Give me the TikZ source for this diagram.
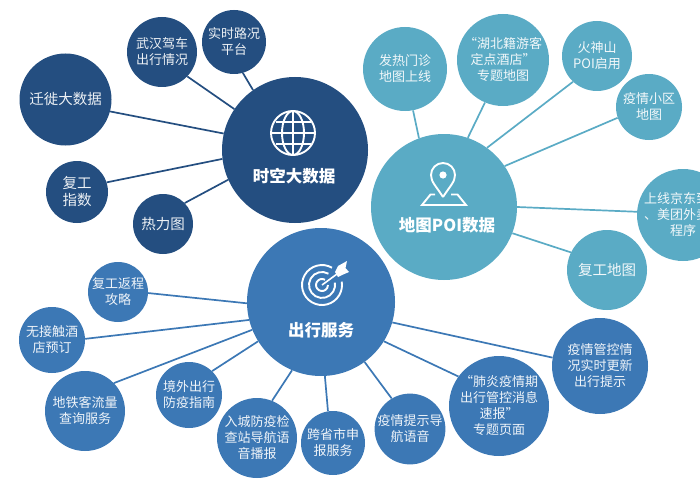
\documentclass[tikz,border=0pt]{standalone}
\usepackage{fontspec}
\setmainfont{Noto Sans CJK SC}
\definecolor{dk}{HTML}{244E80}
\definecolor{bl}{HTML}{3C78B5}
\definecolor{tl}{HTML}{5AABC5}
\tikzset{
  ball/.style={circle,inner sep=0pt,align=center,text=white!92!#1,fill=#1,font=\fontsize{13}{16}\selectfont},
  dkball/.style={ball=dk},
  blball/.style={ball=bl},
  tlball/.style={ball=tl},
  hubtext/.style={text=white,inner sep=0pt,font=\fontsize{16.5}{18}\selectfont\bfseries},
  big/.style={font=\fontsize{14.5}{17}\selectfont},
  dkline/.style={draw=dk,line width=1.7pt},
  blline/.style={draw=bl,line width=1.7pt},
  tlline/.style={draw=tl,line width=1.7pt},
  icon/.style={draw=white,line width=1.9pt},
}
\begin{document}
\begin{tikzpicture}[x=1pt,y=-1pt]
\useasboundingbox (0,0) rectangle (700,500);
\clip (0,0) rectangle (700,500);
% hubs
\node[dkball,minimum size=146pt] (hubA) at (295,150) {};
\node[tlball,minimum size=146pt] (hubB) at (444,207) {};
\node[blball,minimum size=148pt] (hubC) at (321,302) {};
% dark group
\node[dkball,big,minimum size=92pt] (a1) at (65.5,99.5) {迁徙大数据};
\node[dkball,minimum size=70pt] (a2) at (162,52) {武汉驾车\\出行情况};
\node[dkball,minimum size=64pt] (a3) at (234,42) {实时路况\\平台};
\node[dkball,big,minimum size=62pt] (a4) at (77,192) {复工\\指数};
\node[dkball,big,minimum size=60pt] (a5) at (163,224) {热力图};
% teal group
\node[tlball,minimum size=84pt] (b1) at (405,69) {发热门诊\\地图上线};
\node[tlball,minimum size=92pt] (b2) at (503,60) {“湖北籍游客\\定点酒店”\\专题地图};
\node[tlball,minimum size=70pt] (b3) at (597,56) {火神山\\POI启用};
\node[tlball,minimum size=66pt] (b4) at (649,107) {疫情小区\\地图};
\node[tlball,minimum size=92pt] (b5) at (683,215) {上线京东到家\\、美团外卖小\\程序};
\node[tlball,big,minimum size=80pt] (b6) at (607,270) {复工地图};
% blue group
\node[blball,minimum size=60pt] (c1) at (118,292) {复工返程\\攻略};
\node[blball,minimum size=66pt] (c2) at (52,340) {无接触酒\\店预订};
\node[blball,minimum size=80pt] (c3) at (85,411) {地铁客流量\\查询服务};
\node[blball,minimum size=66pt] (c4) at (189,395) {境外出行\\防疫指南};
\node[blball,minimum size=80pt] (c5) at (257,438) {入城防疫检\\查站导航语\\音播报};
\node[blball,minimum size=64pt] (c6) at (333,443) {跨省市申\\报服务};
\node[blball,minimum size=68pt] (c7) at (410,429) {疫情提示导\\航语音};
\node[blball,minimum size=100pt] (c8) at (499,406) {“肺炎疫情期\\出行管控消息\\速报”\\专题页面};
\node[blball,minimum size=96pt] (c9) at (600,366) {疫情管控情\\况实时更新\\出行提示};
% connectors: hub angle / satellite / satellite angle
\foreach \h/\n/\s in {167/a1/-15,146/a2/-44,125/a3/-74,187/a4/18,204/a5/44}
  \draw[dkline] (hubA.\h) -- (\n.\s);
\foreach \h/\n/\s in {110/b1/-79,71/b2/247,54/b3/227,34/b4/199,0/b5/176,-21/b6/154}
  \draw[tlline] (hubB.\h) -- (\n.\s);
\foreach \h/\n/\s in {181/c1/-2,194/c2/2,202/c3/44,212/c4/46,247/c5/68,273/c6/99,-54/c7/121,-32/c8/144,-16/c9/170}
  \draw[blline] (hubC.\h) -- (\n.\s);
% hub labels
\node[hubtext] (labA) at (294,176) {时空大数据};
\node[hubtext] (labB) at (447,225) {地图POI数据};
\node[hubtext] (labC) at (321,330) {出行服务};
% globe icon
\draw[icon] (293,133) circle[radius=22];
\draw[icon] (293,133) ellipse[x radius=11,y radius=22];
\draw[icon] (293,111) -- (293,155);
\draw[icon] (271,133) -- (315,133);
\draw[icon] (275.5,122) -- (310.5,122);
\draw[icon] (275.5,144) -- (310.5,144);
% pin icon
\draw[icon,line join=round] (443,197) .. controls (436,186) and (431,182) .. (431,175)
  arc[start angle=180,end angle=360,radius=12]
  .. controls (455,182) and (450,186) .. (443,197);
\fill[white] (443,175) circle[radius=3.6];
\draw[icon,line join=miter] (435,194.5) -- (430.5,194.5) -- (422,205) -- (466,205) -- (457.5,194.5) -- (451,194.5);
% target icon
\draw[icon] (332,267.7) arc[start angle=-60,end angle=-370,radius=20];
\draw[icon] (328.5,273.7) arc[start angle=-60,end angle=-370,radius=13];
\draw[icon] (325,279.8) arc[start angle=-60,end angle=-360,radius=6];
\draw[white,line width=1.6pt] (322,285) -- (337,274);
\fill[white] (335,272) -- (338,266) -- (347,261) -- (345.5,268) -- (349,272) -- (342,275) -- (338,277) -- cycle;
\end{tikzpicture}
\end{document}
